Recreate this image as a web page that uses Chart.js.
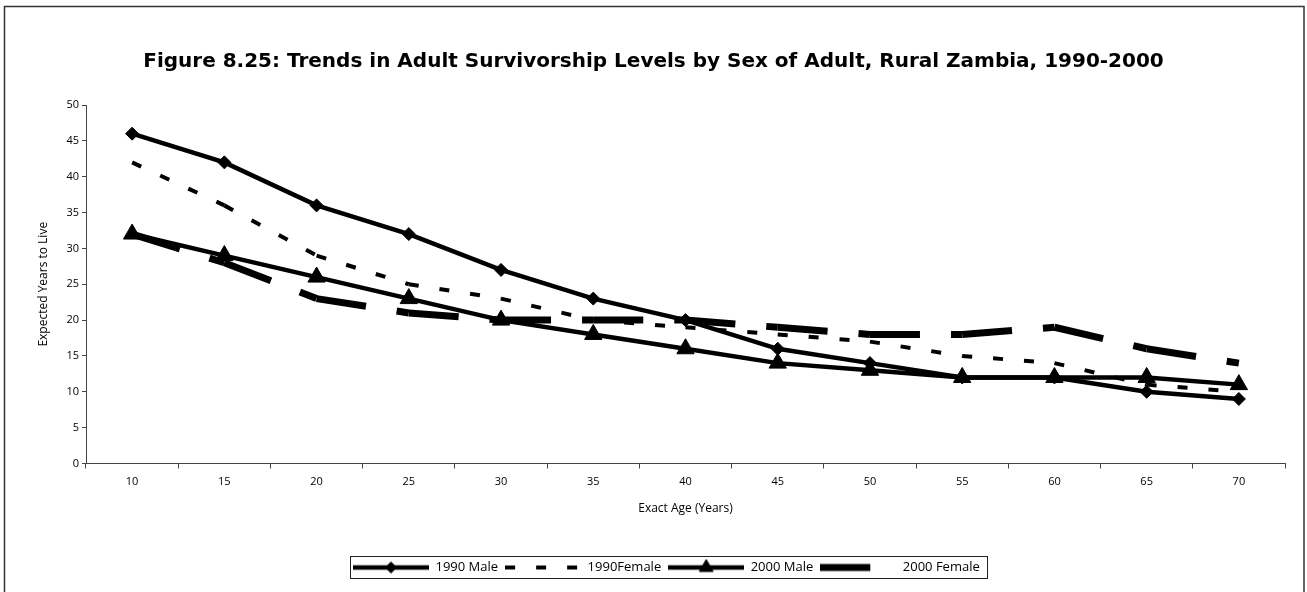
<!DOCTYPE html>
<html>
<head>
<meta charset="utf-8">
<script src="https://cdn.jsdelivr.net/npm/chart.js@4.4.1/dist/chart.umd.min.js"></script>
<style>
html,body{margin:0;padding:0;background:#fff;}
#wrap{position:relative;width:1307px;height:592px;overflow:hidden;}
</style>
</head>
<body>
<div id="wrap"><canvas id="c" width="1307" height="592"></canvas></div>
<script>
// ---------- data ----------
const TITLE = 'Figure 8.25: Trends in Adult Survivorship Levels by Sex of Adult, Rural Zambia, 1990-2000';
const X_TITLE = 'Exact Age (Years)';
const Y_TITLE = 'Expected Years to Live';
const ages = ['10','15','20','25','30','35','40','45','50','55','60','65','70'];
const yTicks = [0,5,10,15,20,25,30,35,40,45,50];
const seriesNames = ['1990 Male','1990Female','2000 Male','2000 Female'];
const male1990   = [46,42,36,32,27,23,20,16,14,12,12,10,9];
const female1990 = [42,36,29,25,23,20,19,18,17,15,14,11,10];
const male2000   = [32,29,26,23,20,18,16,14,13,12,12,12,11];
const female2000 = [32,28,23,21,20,20,20,19,18,18,19,16,14];

// ---------- styles ----------
const FONT = 'Open Sans';
const restartDash = { borderDashOffset: c => (c.p0DataIndex % 2) * 0.01 };
const styles = [
  {borderWidth: 4.5, borderDash: [], pointStyle: 'rectRot', pointRadius: 6.5},
  {borderWidth: 4, borderDash: [10, 21], pointStyle: false, pointRadius: 0, segment: restartDash},
  {borderWidth: 4.5, borderDash: [], pointStyle: 'triangle', pointRadius: 10},
  {borderWidth: 7, borderDash: [50, 31], pointStyle: false, pointRadius: 0, segment: restartDash}
];
const seriesData = [male1990, female1990, male2000, female2000];

const datasets = seriesData.map((d, i) => {
  const s = styles[i];
  const ds = {
    label: seriesNames[i],
    data: d,
    borderColor: '#000',
    backgroundColor: '#000',
    borderWidth: s.borderWidth,
    borderDash: s.borderDash,
    borderCapStyle: 'butt',
    borderJoinStyle: 'miter',
    tension: 0,
    fill: false,
    pointStyle: s.pointStyle || 'circle',
    pointRadius: s.pointRadius,
    pointHoverRadius: s.pointRadius,
    pointBackgroundColor: '#000',
    pointBorderColor: '#000',
    pointBorderWidth: 1
  };
  if (s.segment) ds.segment = s.segment;
  return ds;
});

// legend samples (line + marker) as small canvases
const SAMPLE_W = 76, SAMPLE_H = 22;
function makeSample(s) {
  const cv = document.createElement('canvas');
  cv.width = SAMPLE_W; cv.height = SAMPLE_H;
  const g = cv.getContext('2d');
  g.strokeStyle = '#000'; g.fillStyle = '#000';
  g.lineWidth = s.borderWidth;
  g.lineCap = 'butt';
  g.setLineDash(s.borderDash);
  g.beginPath(); g.moveTo(0, SAMPLE_H/2); g.lineTo(SAMPLE_W, SAMPLE_H/2); g.stroke();
  g.setLineDash([]);
  if (s.pointStyle) {
    g.lineWidth = 1;
    Chart.helpers.drawPoint(g, {pointStyle: s.pointStyle, radius: s.pointStyle === 'triangle' ? 8 : 5.5, borderWidth: 1, rotation: 0}, SAMPLE_W/2, SAMPLE_H/2);
  }
  return cv;
}
const samples = styles.map(makeSample);

const framePlugin = {
  id: 'frame',
  afterLayout(chart) {
    const lg = chart.legend;
    if (lg) {
      const w = lg.right - lg.left, h = lg.bottom - lg.top;
      lg.left = 346; lg.right = 346 + w;
      lg.top = 554; lg.bottom = 554 + h;
    }
  },
  afterDraw(chart) {
    const ctx = chart.ctx;
    ctx.save();
    ctx.strokeStyle = '#333';
    ctx.lineWidth = 1.5;
    ctx.strokeRect(4.5, 6.5, 1299.5, 620);
    const hb = chart.legend && chart.legend.legendHitBoxes;
    if (hb && hb.length) {
      const first = hb[0], last = hb[hb.length - 1];
      const l = first.left - 3, r = last.left + last.width + 7;
      const t = first.top - 5, b = first.top + first.height + 4;
      ctx.lineWidth = 1;
      ctx.strokeStyle = '#222';
      ctx.strokeRect(Math.round(l) + 0.5, Math.round(t) + 0.5, Math.round(r - l), Math.round(b - t));
    }
    ctx.restore();
  }
};

new Chart(document.getElementById('c'), {
  type: 'line',
  data: { labels: ages, datasets },
  options: {
    responsive: false,
    animation: false,
    devicePixelRatio: 1,
    layout: { padding: { left: 22, right: 22, top: 0, bottom: 38.5 } },
    plugins: {
      title: {
        display: true, text: TITLE, color: '#000',
        font: { family: 'DejaVu Sans', size: 20, weight: 'bold', lineHeight: 1.2 },
        padding: { top: 50, bottom: 31 }
      },
      legend: {
        position: 'bottom', align: 'start',
        labels: {
          usePointStyle: true, pointStyleWidth: SAMPLE_W, boxHeight: 13, padding: 7,
          color: '#000', font: { family: FONT, size: 13 },
          generateLabels: chart => chart.data.datasets.map((ds, i) => ({
            text: ds.label, fillStyle: '#000', strokeStyle: '#000', lineWidth: 0,
            pointStyle: samples[i], hidden: false, datasetIndex: i, fontColor: '#000'
          }))
        }
      },
      tooltip: { enabled: false }
    },
    scales: {
      x: {
        type: 'category', offset: true,
        grid: { offset: true, drawOnChartArea: false, tickLength: 5, color: '#444', lineWidth: 1 },
        border: { color: '#444', width: 1 },
        ticks: { padding: 6.5, color: '#000', font: { family: FONT, size: 11 }, maxRotation: 0, autoSkip: false },
        title: { display: true, text: X_TITLE, color: '#000', font: { family: FONT, size: 12 }, padding: { top: 0, bottom: 7.8 } },
        afterFit: s => { s.height = 60; }
      },
      y: {
        min: 0, max: 50,
        afterBuildTicks: axis => { axis.ticks = yTicks.map(v => ({ value: v })); },
        grid: { drawOnChartArea: false, tickLength: 4, color: '#444', lineWidth: 1 },
        border: { color: '#444', width: 1 },
        ticks: { padding: 3, color: '#000', font: { family: FONT, size: 11 } },
        title: { display: true, text: Y_TITLE, color: '#000', font: { family: FONT, size: 12 }, padding: { top: 14.8, bottom: 0 } },
        afterFit: s => { s.width = 64; }
      }
    }
  },
  plugins: [framePlugin]
});
</script>
</body>
</html>
